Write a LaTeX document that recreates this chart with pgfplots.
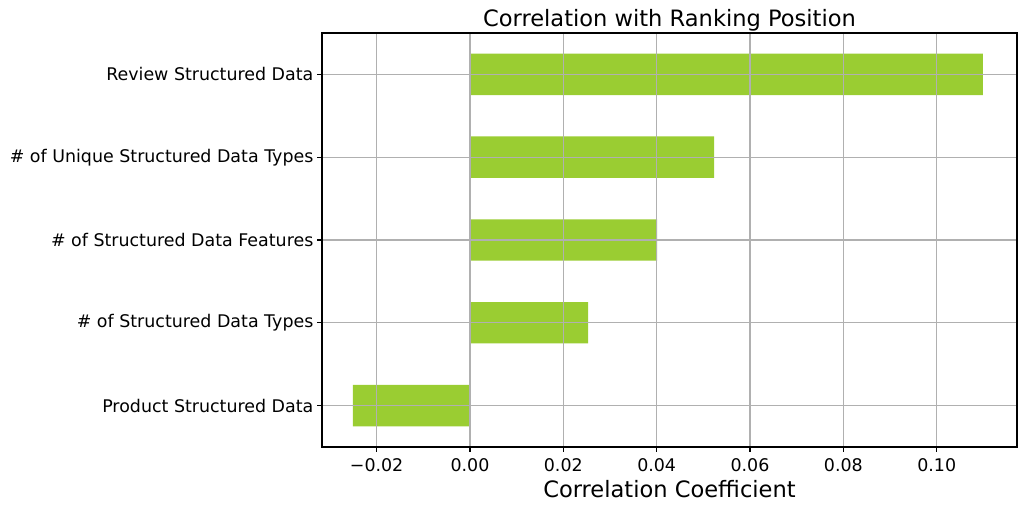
\documentclass[border=0pt]{standalone}
\usepackage{pgfplots}
\pgfplotsset{compat=1.18}
\usepackage{fontspec}
\setmainfont{DejaVu Sans}
\definecolor{barc}{RGB}{154,205,50}
\definecolor{gridc}{RGB}{176,176,176}
\begin{document}
\begin{tikzpicture}
\path[use as bounding box] (0,0) rectangle (737.28bp,365.76bp);
\begin{axis}[
  at={(231.84bp,43.92bp)}, anchor=south west,
  scale only axis, width=500.4bp, height=298.08bp,
  xmin=-0.0317, xmax=0.1172, ymin=-0.5, ymax=4.5,
  xbar, bar width=0.5, bar shift=0pt,
  axis on top,
  xtick={-0.02,0,0.02,0.04,0.06,0.08,0.10},
  xticklabels={−0.02,0.00,0.02,0.04,0.06,0.08,0.10},
  ytick={0,1,2,3,4},
  yticklabels={Product Structured Data,\# of Structured Data Types,\# of Structured Data Features,\# of Unique Structured Data Types,Review Structured Data},
  grid=major,
  major grid style={draw=gridc, line width=0.8bp},
  axis line style={line width=0.8bp},
  tick style={black, line width=0.8bp},
  tick align=outside, major tick length=3.5bp,
  xtick pos=bottom, ytick pos=left,
  tick label style={font=\fontsize{12.6}{15}\selectfont},
  xticklabel style={yshift=-1bp},
  yticklabel style={xshift=0.8bp},
  xlabel={Correlation Coefficient},
  xlabel style={font=\fontsize{16.3}{19}\selectfont, yshift=0.5bp},
  title={Correlation with Ranking Position},
  title style={font=\fontsize{16.3}{19}\selectfont, yshift=-8bp},
]
\addplot[fill=barc, draw=none] coordinates {(-0.0251,0) (0.0253,1) (0.0401,2) (0.0523,3) (0.1099,4)};
\end{axis}
\end{tikzpicture}
\end{document}
